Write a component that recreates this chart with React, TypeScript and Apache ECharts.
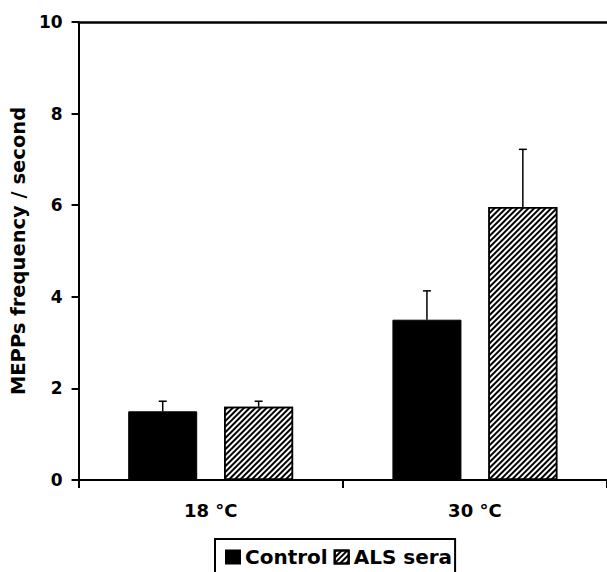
import React, { useEffect, useRef } from "react";
import * as echarts from "echarts";

const categories = ["18 °C", "30 °C"];
const controlMeans = [1.5, 3.5];
const controlErrs = [0.22, 0.63];
const alsMeans = [1.6, 5.96];
const alsErrs = [0.12, 1.26];
const yTicks = { min: 0, max: 10, interval: 2 };
const seriesNames = ["Control", "ALS sera"];

const FONT = "DejaVu Sans";
const BAR_W = 69;
const GAP = 0.39;

function makeErr(means: number[], errs: number[], side: number) {
  return {
    type: "custom",
    xAxisIndex: 0,
    yAxisIndex: 0,
    z: 5,
    silent: true,
    data: means.map((m, i) => [i, m, m + errs[i]]),
    renderItem: (params: any, api: any) => {
      const base = api.coord([api.value(0), api.value(1)]);
      const top = api.coord([api.value(0), api.value(2)]);
      const x = base[0] + (side * (BAR_W + BAR_W * GAP)) / 2;
      return {
        type: "group",
        children: [
          {
            type: "line",
            shape: { x1: x, y1: base[1], x2: x, y2: top[1] },
            style: { stroke: "#000", lineWidth: 1.5 },
          },
          {
            type: "line",
            shape: { x1: x - 4, y1: top[1], x2: x + 4, y2: top[1] },
            style: { stroke: "#000", lineWidth: 1.5 },
          },
        ],
      };
    },
  };
}

export default function App() {
  const ref = useRef<HTMLDivElement>(null);
  useEffect(() => {
    if (!ref.current) return;
    const chart = echarts.init(ref.current, undefined, { renderer: "svg" });
    const labelStyle = {
      fontFamily: FONT,
      fontWeight: "bold" as const,
      color: "#000",
    };
    chart.setOption({
      animation: false,
      backgroundColor: "#fff",
      grid: { left: 78, top: 22, width: 531, height: 458 },
      legend: {
        data: seriesNames,
        left: 215,
        top: 539,
        orient: "horizontal",
        icon: "rect",
        itemWidth: 14,
        itemHeight: 13,
        itemGap: 6,
        padding: [8, 3, 20, 10],
        borderColor: "#000",
        borderWidth: 2,
        backgroundColor: "#fff",
        textStyle: { ...labelStyle, fontSize: 20 },
      },
      xAxis: [
        {
          type: "category",
          data: categories,
          boundaryGap: true,
          axisLine: { show: true, lineStyle: { color: "#000", width: 2 } },
          axisTick: {
            show: true,
            alignWithLabel: false,
            length: 8,
            lineStyle: { color: "#000", width: 2 },
          },
          axisLabel: { ...labelStyle, fontSize: 18, margin: 21 },
          splitLine: { show: false },
        },
        {
          type: "category",
          data: categories,
          position: "top",
          axisLine: { show: true, lineStyle: { color: "#000", width: 2.5 } },
          axisTick: { show: false },
          axisLabel: { show: false },
          splitLine: { show: false },
        },
      ],
      yAxis: {
        type: "value",
        min: yTicks.min,
        max: yTicks.max,
        interval: yTicks.interval,
        name: "MEPPs frequency / second",
        nameLocation: "middle",
        nameGap: 46,
        nameTextStyle: { ...labelStyle, fontSize: 19.5 },
        axisLine: { show: true, lineStyle: { color: "#000", width: 2 } },
        axisTick: {
          show: true,
          length: 7,
          lineStyle: { color: "#000", width: 2 },
        },
        axisLabel: { ...labelStyle, fontSize: 17, margin: 16 },
        splitLine: { show: false },
      },
      series: [
        {
          name: seriesNames[0],
          type: "bar",
          data: controlMeans,
          barWidth: BAR_W,
          barGap: GAP * 100 + "%",
          itemStyle: { color: "#000", borderColor: "#000", borderWidth: 1 },
        },
        {
          name: seriesNames[1],
          type: "bar",
          data: alsMeans,
          barWidth: BAR_W,
          barGap: GAP * 100 + "%",
          itemStyle: {
            color: "#fff",
            borderColor: "#000",
            borderWidth: 1.5,
            decal: {
              symbol: "rect",
              symbolSize: 1,
              color: "#000",
              backgroundColor: "#fff",
              dashArrayX: [1, 0],
              dashArrayY: [1.5, 1.5],
              rotation: -Math.PI / 4,
            },
          },
        },
        makeErr(controlMeans, controlErrs, -1),
        makeErr(alsMeans, alsErrs, 1),
      ],
    });
    return () => chart.dispose();
  }, []);
  return (
    <div
      ref={ref}
      style={{ position: "absolute", left: 0, top: 0, width: 607, height: 572 }}
    />
  );
}
